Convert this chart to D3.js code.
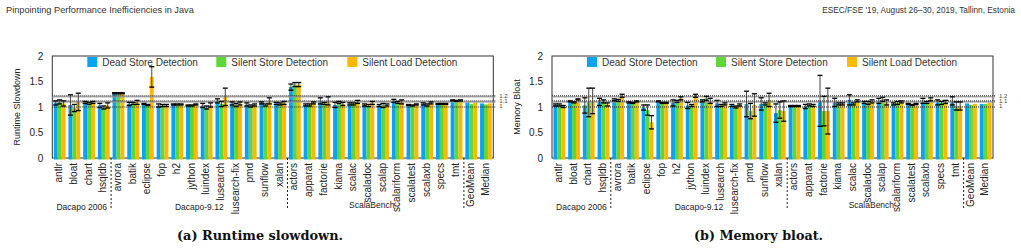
<!DOCTYPE html>
<html>
<head>
<meta charset="utf-8">
<script src="https://cdn.jsdelivr.net/npm/d3@7"></script>
<style>
  body { margin: 0; background: #fff; }
  svg { display: block; }
  text { font-family: "Liberation Sans", Arial, sans-serif; }
</style>
</head>
<body>
<div id="chart"></div>
<script>
const categories = ["antlr", "bloat", "chart", "hsqldb",
  "avrora", "batik", "eclipse", "fop", "h2", "jython", "luindex", "lusearch", "lusearch-fix", "pmd", "sunflow", "xalan",
  "actors", "apparat", "factorie", "kiama", "scalac", "scaladoc", "scalap", "scalariform", "scalatest", "scalaxb", "specs", "tmt",
  "GeoMean", "Median"];

const seriesNames = ["Dead Store Detection", "Silent Store Detection", "Silent Load Detection"];

const suites = [
  { name: "Dacapo 2006", first: "antlr", last: "hsqldb" },
  { name: "Dacapo-9.12", first: "avrora", last: "xalan" },
  { name: "ScalaBench", first: "actors", last: "tmt" }
];
const separatorsAfter = ["hsqldb", "xalan", "tmt"];
const yTicks = [0, 0.5, 1, 1.5, 2];
const refLines = [1, 1.1, 1.2];

// (a) runtime slowdown
const runtimeDead = [1.08, 1.04, 1.09, 1.03, 1.27, 1.06, 1.06, 1.03, 1.05, 1.03, 1.03, 1.12, 1.07, 1.05, 1.08, 1.07,
  1.39, 1.04, 1.12, 1.04, 1.06, 1.04, 1.03, 1.12, 1.04, 1.06, 1.06, 1.13, 1.09, 1.07];
const runtimeStore = [1.1, 0.98, 1.07, 0.99, 1.27, 1.07, 1.04, 1.03, 1.05, 1.03, 0.99, 1.06, 1.04, 1.02, 1.04, 1.06,
  1.44, 1.04, 1.07, 1.09, 1.06, 1.03, 1.03, 1.09, 1.03, 1.04, 1.06, 1.12, 1.06, 1.05];
const runtimeLoad = [1.07, 1.1, 1.09, 1.03, 1.27, 1.09, 1.59, 1.03, 1.05, 1.05, 1.04, 1.2, 1.07, 1.04, 1.12, 1.08,
  1.44, 1.08, 1.12, 1.06, 1.1, 1.08, 1.04, 1.1, 1.05, 1.08, 1.06, 1.13, 1.09, 1.07];
const runtimeDeadErr = [0.04, 0.2, 0.02, 0.04, 0.01, 0.03, 0.01, 0.03, 0.01, 0.01, 0.04, 0.04, 0.03, 0.03, 0.02, 0.02,
  0.06, 0.02, 0.06, 0.05, 0.02, 0.02, 0.02, 0.03, 0.01, 0.02, 0.01, 0.01, 0, 0];
const runtimeStoreErr = [0.04, 0.07, 0.02, 0.03, 0.01, 0.02, 0.01, 0.02, 0.01, 0.01, 0.03, 0.05, 0.03, 0.02, 0.02, 0.02,
  0.04, 0.02, 0.02, 0.02, 0.02, 0.02, 0.04, 0.02, 0.01, 0.02, 0.01, 0.01, 0, 0];
const runtimeLoadErr = [0.05, 0.17, 0.02, 0.05, 0.01, 0.04, 0.2, 0.02, 0.01, 0.01, 0.04, 0.17, 0.03, 0.02, 0.06, 0.03,
  0.04, 0.02, 0.08, 0.03, 0.03, 0.03, 0.02, 0.04, 0.01, 0.02, 0.01, 0.01, 0, 0];

// (b) memory bloat
const memoryDead = [1.04, 1.11, 1.03, 1.1, 1.14, 1.09, 0.99, 1.11, 1.08, 1.03, 1.12, 1.07, 1.03, 1.06, 1.06, 0.88,
  1.02, 1.01, 1.12, 1.09, 1.14, 1.09, 1.12, 1.06, 1.06, 1.12, 1.09, 1.12, 1.07, 1.06];
const memoryStore = [1.04, 1.09, 1.09, 1.11, 1.13, 1.08, 0.94, 1.08, 1.11, 1.03, 1.17, 1.03, 1.0, 0.92, 1.06, 0.94,
  1.02, 1.04, 0.92, 1.06, 1.06, 1.08, 1.15, 1.08, 1.04, 1.09, 1.08, 1.02, 1.04, 1.06];
const memoryLoad = [1.01, 1.15, 1.12, 1.05, 1.22, 1.11, 0.7, 1.08, 1.17, 1.22, 1.12, 1.06, 1.04, 1.04, 1.14, 0.92,
  1.02, 1.03, 0.92, 1.06, 1.12, 1.11, 1.09, 1.1, 1.06, 1.15, 1.1, 1.02, 1.06, 1.08];
const memoryDeadErr = [0.02, 0.01, 0.15, 0.07, 0.02, 0.01, 0.05, 0.01, 0.06, 0.06, 0.02, 0.06, 0.02, 0.25, 0.12, 0.18,
  0.01, 0.04, 0.5, 0.08, 0.1, 0.02, 0.05, 0.02, 0.01, 0.05, 0.05, 0.08, 0, 0];
const memoryStoreErr = [0.02, 0.01, 0.28, 0.03, 0.02, 0.01, 0.1, 0.01, 0.02, 0.02, 0.04, 0.02, 0.02, 0.15, 0.02, 0.16,
  0.01, 0.02, 0.29, 0.02, 0.02, 0.03, 0.04, 0.03, 0.01, 0.02, 0.03, 0.08, 0, 0];
const memoryLoadErr = [0.02, 0.01, 0.25, 0.03, 0.03, 0.01, 0.13, 0.01, 0.03, 0.03, 0.05, 0.02, 0.02, 0.22, 0.13, 0.2,
  0.01, 0.02, 0.45, 0.02, 0.02, 0.03, 0.05, 0.02, 0.01, 0.03, 0.03, 0.08, 0, 0];

const colours = ["#08a4f2", "#5fd63a", "#fdb900"];

const size = { width: 1021, height: 252, top: 56, bottom: 158 };

const panels = [
  { left: 52.3, right: 493.3, title: "Runtime Slowdown", titleX: 18,
    values: [runtimeDead, runtimeStore, runtimeLoad], errors: [runtimeDeadErr, runtimeStoreErr, runtimeLoadErr],
    caption: "(a) Runtime slowdown.", captionX: 260, captionWidth: 166 },
  { left: 552, right: 993, title: "Memory Bloat", titleX: 518,
    values: [memoryDead, memoryStore, memoryLoad], errors: [memoryDeadErr, memoryStoreErr, memoryLoadErr],
    caption: "(b) Memory bloat.", captionX: 758.5, captionWidth: 129 }
];

function drawPanel(svg, p) {
  const x = d3.scaleBand().domain(categories).range([p.left, p.right]).paddingInner(0.2).paddingOuter(0.1);
  const sub = d3.scaleBand().domain(d3.range(3)).range([0, x.bandwidth()]);
  const y = d3.scaleLinear().domain([0, 2]).range([size.bottom, size.top]);
  const g = svg.append("g");

  // frame
  g.append("rect")
    .attr("x", p.left).attr("y", size.top)
    .attr("width", p.right - p.left).attr("height", size.bottom - size.top)
    .attr("fill", "none").attr("stroke", "#333").attr("stroke-width", 1);

  // y axis
  const yAxis = g.append("g")
    .attr("transform", `translate(${p.left},0)`)
    .call(d3.axisLeft(y).tickValues(yTicks).tickSize(0).tickPadding(9).tickFormat(d3.format("")));
  yAxis.select(".domain").remove();
  yAxis.selectAll("text").style("font-size", "10px").style("fill", "#222")
    .style("font-family", '"Liberation Sans", Arial, sans-serif');

  g.append("text")
    .attr("transform", `translate(${p.titleX},${(size.top + size.bottom) / 2}) rotate(-90)`)
    .attr("text-anchor", "middle").attr("dominant-baseline", "middle")
    .style("font-size", "9px").style("fill", "#222")
    .text(p.title);

  // bars
  const rows = categories.map((c, i) => ({ c, i }));
  p.values.forEach((vals, s) => {
    g.append("g").selectAll("rect")
      .data(rows).join("rect")
      .attr("x", d => x(d.c) + sub(s))
      .attr("y", d => y(vals[d.i]))
      .attr("width", sub.bandwidth())
      .attr("height", d => size.bottom + 1.5 - y(vals[d.i]))
      .attr("fill", colours[s]);
  });

  // reference lines
  const refG = g.append("g");
  refG.selectAll("line.band")
    .data(refLines.filter(v => v > 1)).join("line")
    .attr("x1", p.left).attr("x2", p.right + 2)
    .attr("y1", d => y(d)).attr("y2", d => y(d))
    .attr("stroke", "#999").attr("stroke-width", 1.6).attr("opacity", 0.8);
  refG.selectAll("line.dot")
    .data(refLines).join("line")
    .attr("x1", p.left).attr("x2", p.right + 2)
    .attr("y1", d => y(d) - (d > 1 ? 1 : 0)).attr("y2", d => y(d) - (d > 1 ? 1 : 0))
    .attr("stroke", "#222").attr("stroke-width", 1).attr("stroke-dasharray", "1,1");
  refG.selectAll("text")
    .data(refLines).join("text")
    .attr("x", p.right + 6).attr("y", d => y(d) + 1)
    .style("font-size", "6px").style("fill", "#444")
    .text(d => d);

  // error bars
  p.values.forEach((vals, s) => {
    const errs = p.errors[s];
    const eb = g.append("g").selectAll("g")
      .data(rows.filter(d => errs[d.i] > 0)).join("g")
      .attr("transform", d => `translate(${x(d.c) + sub(s) + sub.bandwidth() / 2},0)`);
    eb.append("line")
      .attr("y1", d => y(vals[d.i] - errs[d.i])).attr("y2", d => y(vals[d.i] + errs[d.i]))
      .attr("stroke", "#444").attr("stroke-width", 1);
    eb.append("line")
      .attr("x1", -2.5).attr("x2", 2.5)
      .attr("y1", d => y(vals[d.i] + errs[d.i])).attr("y2", d => y(vals[d.i] + errs[d.i]))
      .attr("stroke", "#000").attr("stroke-width", 1.3);
    eb.append("line")
      .attr("x1", -2.5).attr("x2", 2.5)
      .attr("y1", d => y(vals[d.i] - errs[d.i])).attr("y2", d => y(vals[d.i] - errs[d.i]))
      .attr("stroke", "#000").attr("stroke-width", 1.3);
  });

  // legend
  const legendOffsets = [35, 164, 295];
  const legend = g.append("g").selectAll("g")
    .data(seriesNames).join("g")
    .attr("transform", (d, i) => `translate(${p.left + legendOffsets[i]},57)`);
  legend.append("rect").attr("width", 10).attr("height", 10).attr("fill", (d, i) => colours[i]);
  legend.append("text").attr("x", 15).attr("y", 9)
    .style("font-size", "10px").style("fill", "#333").text(d => d);

  // x labels
  g.append("g").selectAll("text")
    .data(categories).join("text")
    .attr("transform", d => `translate(${x(d) + x.bandwidth() / 2},163) rotate(-90)`)
    .attr("text-anchor", "end").attr("dominant-baseline", "middle")
    .style("font-size", "10px").style("fill", "#222")
    .text(d => d);

  // suite separators and names
  const step = x.step();
  g.append("g").selectAll("line")
    .data(separatorsAfter).join("line")
    .attr("x1", d => x(d) + x.bandwidth() + step * 0.1).attr("x2", d => x(d) + x.bandwidth() + step * 0.1)
    .attr("y1", size.bottom).attr("y2", 208)
    .attr("stroke", "#222").attr("stroke-width", 1).attr("stroke-dasharray", "2,2");
  g.append("g").selectAll("text")
    .data(suites).join("text")
    .attr("x", d => (x(d.first) + x(d.last) + x.bandwidth()) / 2 - (d.name === "ScalaBench" ? 4 : 0))
    .attr("y", d => d.name === "ScalaBench" ? 208 : 210)
    .attr("text-anchor", "middle")
    .style("font-size", "8.5px").style("fill", "#222")
    .text(d => d.name);

  // caption
  g.append("text")
    .attr("x", p.captionX - p.captionWidth / 2).attr("y", 240)
    .attr("textLength", p.captionWidth).attr("lengthAdjust", "spacingAndGlyphs")
    .style("font-family", '"DejaVu Serif", "Liberation Serif", serif')
    .style("font-weight", "bold").style("font-size", "12px").style("fill", "#111")
    .text(p.caption);
}

function draw() {
  const svg = d3.select("#chart").append("svg")
    .attr("width", size.width).attr("height", size.height);

  svg.append("text")
    .attr("x", 6).attr("y", 12.5)
    .style("font-size", "9.2px").style("fill", "#333")
    .text("Pinpointing Performance Inefficiencies in Java");
  svg.append("text")
    .attr("x", 1015).attr("y", 12.5)
    .attr("text-anchor", "end")
    .style("font-size", "8.3px").style("fill", "#333")
    .text("ESEC/FSE '19, August 26–30, 2019, Tallinn, Estonia");

  panels.forEach(p => drawPanel(svg, p));
}

draw();
</script>
</body>
</html>
